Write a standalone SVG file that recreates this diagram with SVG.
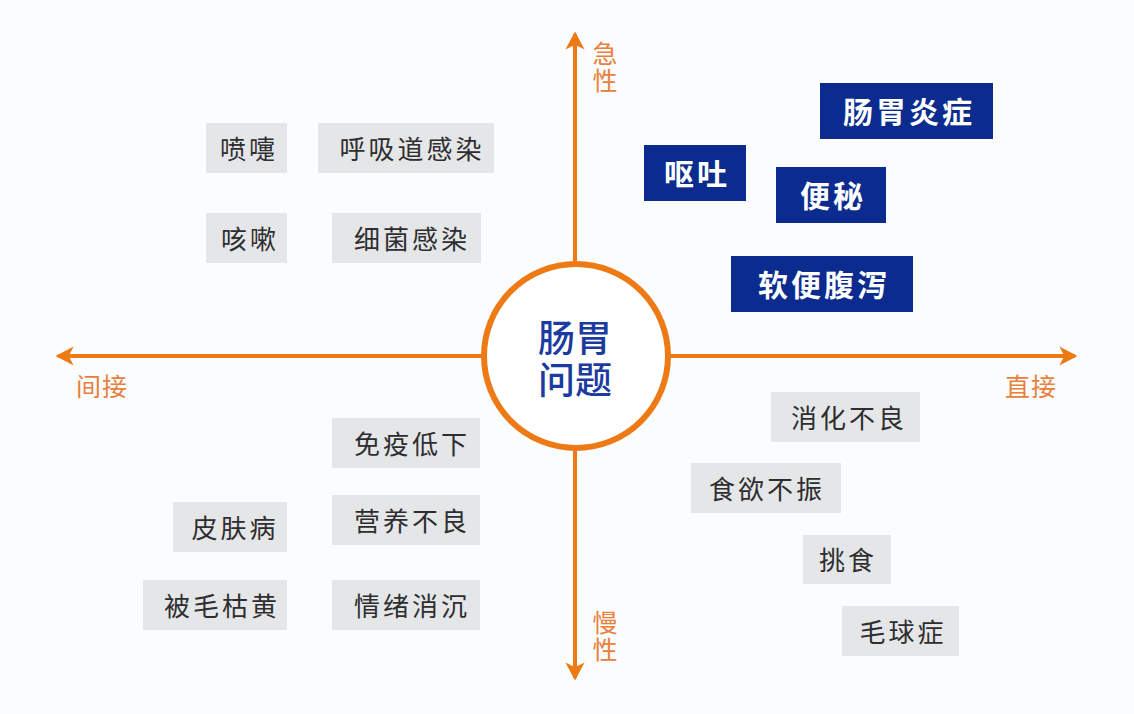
<svg xmlns="http://www.w3.org/2000/svg" width="1134" height="714" viewBox="0 0 1134 714">
<defs>
<style>
.bg{fill:#FBFCFE}
.axis{stroke:#EE7A16;stroke-width:4;fill:none}
.gbox{fill:#E5E6E8}
.bbox{fill:#0B2C8E}
.gt{font-family:"Noto Sans CJK SC","Noto Sans",sans-serif;font-size:26px;fill:#2E2E30;text-anchor:middle;dominant-baseline:central;letter-spacing:3px}
.bt{font-family:"Noto Sans CJK SC","Noto Sans",sans-serif;font-size:30px;font-weight:bold;fill:#FFFFFF;text-anchor:middle;dominant-baseline:central;letter-spacing:3px}
.at{font-family:"Noto Sans CJK SC","Noto Sans",sans-serif;font-size:25px;fill:#E8803C;text-anchor:middle;dominant-baseline:central;letter-spacing:1px}
.vt{font-family:"Noto Sans CJK SC","Noto Sans",sans-serif;font-size:25px;fill:#E8803C;text-anchor:middle;writing-mode:vertical-rl;letter-spacing:2px}
.ct{font-family:"Noto Sans CJK SC","Noto Sans",sans-serif;font-size:37px;font-weight:500;fill:#1B3C9E;text-anchor:middle;dominant-baseline:central}
</style>
<marker id="arr" viewBox="0 0 20 20" refX="15" refY="10" markerWidth="6" markerHeight="6" markerUnits="strokeWidth" orient="auto">
<path d="M2,2 L17,10 L2,18 L6,10 Z" fill="#EE7A16"/>
</marker>
</defs>
<rect class="bg" x="0" y="0" width="1134" height="714"/>
<g id="connectors">
<line class="axis" x1="575" y1="356" x2="575" y2="34" marker-end="url(#arr)"/>
<line class="axis" x1="575" y1="356" x2="575" y2="678" marker-end="url(#arr)"/>
<line class="axis" x1="575" y1="356" x2="58" y2="356" marker-end="url(#arr)"/>
<line class="axis" x1="575" y1="356" x2="1075" y2="356" marker-end="url(#arr)"/>
</g>
<g id="axis-labels">
<text class="vt" x="605" y="68">急性</text>
<text class="vt" x="605" y="637">慢性</text>
<text class="at" x="102" y="385">间接</text>
<text class="at" x="1031" y="385">直接</text>
</g>
<g id="center">
<circle cx="576" cy="356" r="92" fill="#FFFFFF" stroke="#EE7A16" stroke-width="6"/>
<text class="ct" x="575" y="336"><tspan x="575" y="336">肠胃</tspan><tspan x="575" y="378">问题</tspan></text>
</g>
<g id="n-penti"><rect class="gbox" x="206" y="123" width="81" height="50"/><text class="gt" x="249" y="147">喷嚏</text></g>
<g id="n-huxidao"><rect class="gbox" x="318" y="123" width="176" height="50"/><text class="gt" x="412" y="147">呼吸道感染</text></g>
<g id="n-kesou"><rect class="gbox" x="206" y="213" width="81" height="50"/><text class="gt" x="250" y="237">咳嗽</text></g>
<g id="n-xijun"><rect class="gbox" x="332" y="213" width="149" height="50"/><text class="gt" x="412" y="237">细菌感染</text></g>
<g id="n-changweiyan"><rect class="bbox" x="820" y="83" width="173" height="56"/><text class="bt" x="909" y="110">肠胃炎症</text></g>
<g id="n-outu"><rect class="bbox" x="644" y="145" width="102" height="56"/><text class="bt" x="697" y="172">呕吐</text></g>
<g id="n-bianmi"><rect class="bbox" x="776" y="167" width="110" height="56"/><text class="bt" x="833" y="194">便秘</text></g>
<g id="n-ruanbian"><rect class="bbox" x="731" y="256" width="182" height="56"/><text class="bt" x="824" y="283">软便腹泻</text></g>
<g id="n-xiaohua"><rect class="gbox" x="771" y="392" width="149" height="50"/><text class="gt" x="849" y="416">消化不良</text></g>
<g id="n-shiyu"><rect class="gbox" x="691" y="463" width="150" height="50"/><text class="gt" x="767" y="487">食欲不振</text></g>
<g id="n-tiaoshi"><rect class="gbox" x="803" y="535" width="88" height="49"/><text class="gt" x="848" y="558">挑食</text></g>
<g id="n-maoqiu"><rect class="gbox" x="842" y="606" width="117" height="50"/><text class="gt" x="903" y="630">毛球症</text></g>
<g id="n-mianyi"><rect class="gbox" x="332" y="418" width="148" height="50"/><text class="gt" x="412" y="442">免疫低下</text></g>
<g id="n-pifu"><rect class="gbox" x="173" y="502" width="114" height="50"/><text class="gt" x="235" y="526">皮肤病</text></g>
<g id="n-yingyang"><rect class="gbox" x="332" y="495" width="148" height="50"/><text class="gt" x="412" y="519">营养不良</text></g>
<g id="n-beimao"><rect class="gbox" x="143" y="580" width="144" height="50"/><text class="gt" x="222" y="604">被毛枯黄</text></g>
<g id="n-qingxu"><rect class="gbox" x="332" y="580" width="148" height="50"/><text class="gt" x="412" y="604">情绪消沉</text></g>
</svg>
